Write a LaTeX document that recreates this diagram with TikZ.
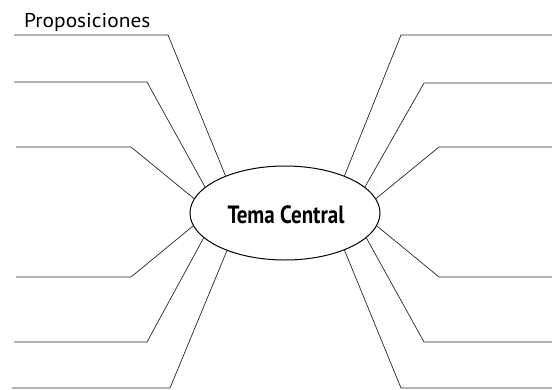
\documentclass[tikz,border=0pt]{standalone}
\usepackage{fontspec}
\setmainfont{PT Sans}
\usetikzlibrary{shapes.geometric}
\begin{document}
\begin{tikzpicture}[x=1pt,y=-1pt,
  conn/.style={draw=black!85,line width=0.7pt},
  central/.style={ellipse,draw,line width=1pt,minimum width=190pt,minimum height=94pt,inner sep=0pt}]
\useasboundingbox (0,0) rectangle (552,389);
\node[central] (c) at (285,213) {};
\node[font=\bfseries\fontsize{25}{25}\selectfont] (t) at (286,215) {\scalebox{0.84}[1]{Tema Central}};
\node[font=\fontsize{20}{20}\selectfont,anchor=base west,inner sep=0pt] (p) at (24,27) {\scalebox{1.07}[1]{Proposiciones}};
% left side
\coordinate (la1) at (14,35);  \coordinate (lb1) at (168,35);
\coordinate (la2) at (14,82);  \coordinate (lb2) at (147,82);
\coordinate (la3) at (16,147); \coordinate (lb3) at (131,147);
\coordinate (la4) at (16,277); \coordinate (lb4) at (131,277);
\coordinate (la5) at (14,342); \coordinate (lb5) at (147,342);
\coordinate (la6) at (12,388); \coordinate (lb6) at (170,388);
% right side
\coordinate (ra1) at (552,35);  \coordinate (rb1) at (401,35);
\coordinate (ra2) at (552,83);  \coordinate (rb2) at (424,83);
\coordinate (ra3) at (552,147); \coordinate (rb3) at (439,147);
\coordinate (ra4) at (552,277); \coordinate (rb4) at (439,277);
\coordinate (ra5) at (552,342); \coordinate (rb5) at (424,342);
\coordinate (ra6) at (552,388); \coordinate (rb6) at (401,388);
\draw[conn] (la1) -- (lb1) -- (c.148);
\draw[conn] (la2) -- (lb2) -- (c.162);
\draw[conn] (la3) -- (lb3) -- (c.171);
\draw[conn] (la4) -- (lb4) -- (c.188);
\draw[conn] (la5) -- (lb5) -- (c.197);
\draw[conn] (la6) -- (lb6) -- (c.213);
\draw[conn] (ra1) -- (rb1) -- (c.32);
\draw[conn] (ra2) -- (rb2) -- (c.18);
\draw[conn] (ra3) -- (rb3) -- (c.9);
\draw[conn] (ra4) -- (rb4) -- (c.-8);
\draw[conn] (ra5) -- (rb5) -- (c.-17);
\draw[conn] (ra6) -- (rb6) -- (c.-32);
\end{tikzpicture}
\end{document}
